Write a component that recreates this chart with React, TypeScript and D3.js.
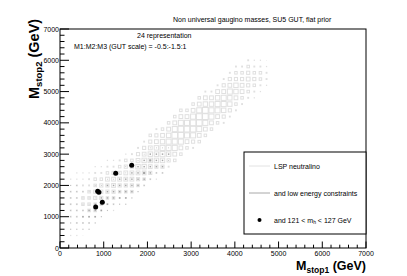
import React from "react";
import * as d3 from "d3";

const W = 407;
const H = 276;

// axes (GeV)
const axisMax = 7000;
const tickLabels = ["0", "1000", "2000", "3000", "4000", "5000", "6000", "7000"];

// 2D histogram binning (GeV)
const firstColumnStop1 = 245;
const binWidthStop1 = 140;
const binHeightStop2 = 200;

// first filled row of every column (row * binHeightStop2 = M_stop2 centre)
const columnFirstRow = [
  2, 2, 2, 3, 4, 5, 6, 6, 7, 7, 8, 9, 10, 11, 11, 12, 13,
  14, 15, 16, 16, 17, 18, 19, 20, 20, 21, 22, 23, 24, 24, 25, 26,
];

// box size per bin, bottom to top (0 = empty, 9 = full bin)
const lspContent = [
  "2223333322", "22333333322", "12333443322", "2334444332", "2344554432",
  "234555432", "234556432", "234566532", "23456543", "234566542",
  "24566543", "24567653", "34677653", "35677654", "235777653",
  "35788764", "35788764", "46889864", "46899864", "4689864",
  "35899864", "46899864", "46899763", "4688763", "4688763",
  "35788653", "35778653", "34677543", "3466543", "3456543",
  "2345432", "234432", "23321",
];

const lowEnergyContent = [
  "0111111110", "01111111100", "01121111000", "1122111000", "1222111000",
  "122211000", "122221000", "012221000", "12222100", "122221100",
  "12222100", "12222100", "12322100", "12232100", "012221000",
  "12221000", "01210000",
];

// points with 121 < m_h < 127 GeV
const higgsStop1 = [816, 968, 862, 890, 1274, 1640];
const higgsStop2 = [1310, 1460, 1815, 1780, 2387, 2643];

const font = "'Liberation Sans', Arial, sans-serif";

function cellsFrom(content: string[]) {
  const out: { s1: number; s2: number; v: number }[] = [];
  content.forEach((col, i) => {
    col.split("").forEach((ch, k) => {
      const v = +ch;
      if (v > 0)
        out.push({
          s1: firstColumnStop1 + i * binWidthStop1,
          s2: (columnFirstRow[i] + k) * binHeightStop2,
          v,
        });
    });
  });
  return out;
}

export default function App() {
  const x = d3.scaleLinear().domain([0, axisMax]).range([60, 366]);
  const y = d3.scaleLinear().domain([0, axisMax]).range([248, 29]);
  const bw = x(binWidthStop1) - x(0);
  const bh = y(0) - y(binHeightStop2);
  const boxScale = d3.scaleLinear().domain([0, 9]).range([0, 0.92]);
  const darkScale = d3.scaleLinear().domain([0, 3]).range([0, 2.2]);

  const lsp = cellsFrom(lspContent);
  const low = cellsFrom(lowEnergyContent);

  const major = x.ticks(7);
  const minor = x.ticks(35);

  return (
    <svg
      width={W}
      height={H}
      style={{ position: "absolute", left: 0, top: 0, background: "#fff" }}
      fontFamily={font}
    >
      <rect x={0} y={0} width={W} height={H} fill="#fff" />

      {/* LSP neutralino boxes */}
      {lsp.map((c, i) => {
        const w = boxScale(c.v) * bw;
        const h = boxScale(c.v) * bh;
        const small = w < 2.2;
        return (
          <rect
            key={"l" + i}
            x={x(c.s1) - w / 2}
            y={y(c.s2) - h / 2}
            width={w}
            height={h}
            fill={small ? "#e0e0e0" : "none"}
            stroke="#e0e0e0"
            strokeWidth={small ? 0 : 1}
          />
        );
      })}

      {/* low energy constraint boxes */}
      {low.map((c, i) => {
        const s = darkScale(c.v);
        return (
          <rect
            key={"d" + i}
            x={x(c.s1) - s / 2}
            y={y(c.s2) - s / 2}
            width={s}
            height={s}
            fill="#a6a6a6"
          />
        );
      })}

      {/* Higgs mass points */}
      {higgsStop1.map((v, i) => (
        <circle key={"h" + i} cx={x(v)} cy={y(higgsStop2[i])} r={2.5} fill="#000" />
      ))}

      {/* frame */}
      <rect x={60} y={29} width={306} height={219} fill="none" stroke="#000" strokeWidth={1} />

      {/* y axis ticks */}
      {minor.map((t) => (
        <line
          key={"ym" + t}
          x1={60}
          x2={60 + (major.includes(t) ? 9 : 4.5)}
          y1={y(t)}
          y2={y(t)}
          stroke="#000"
          strokeWidth={1}
        />
      ))}
      {/* x axis ticks */}
      {minor.map((t) => (
        <line
          key={"xm" + t}
          x1={x(t)}
          x2={x(t)}
          y1={248}
          y2={248 - (major.includes(t) ? 6.5 : 3.3)}
          stroke="#000"
          strokeWidth={1}
        />
      ))}

      {/* tick labels */}
      {major.map((t, i) => (
        <text key={"yl" + t} x={59} y={y(t) + 2.5} fontSize={7} textAnchor="end" fill="#000">
          {tickLabels[i]}
        </text>
      ))}
      {major.map((t, i) => (
        <text key={"xl" + t} x={x(t)} y={256} fontSize={7} textAnchor="middle" fill="#000">
          {tickLabels[i]}
        </text>
      ))}

      {/* axis titles */}
      <text x={366} y={270} fontSize={12.5} fontWeight="bold" textAnchor="end">
        M<tspan fontSize={8.5} dy={2.5}>stop1</tspan>
        <tspan dy={-2.5}> (GeV)</tspan>
      </text>
      <text
        transform="translate(39,99) rotate(-90)"
        fontSize={14.5}
        fontWeight="bold"
        textAnchor="start"
      >
        M<tspan fontSize={9.5} dy={3}>stop2</tspan>
        <tspan dy={-3}> (GeV)</tspan>
      </text>

      {/* titles */}
      <text x={173} y={22} fontSize={7}>Non universal gaugino masses, SU5 GUT, flat prior</text>
      <text x={137} y={38} fontSize={7}>24 representation</text>
      <text x={74} y={49} fontSize={7}>M1:M2:M3 (GUT scale) = -0.5:-1.5:1</text>

      {/* legend */}
      <rect x={244} y={152} width={122} height={82} fill="#fff" stroke="#000" strokeWidth={1} />
      <line x1={249} x2={270} y1={166} y2={166} stroke="#e2e2e2" strokeWidth={1} />
      <text x={274} y={168.5} fontSize={7}>LSP neutralino</text>
      <line x1={249} x2={270} y1={193} y2={193} stroke="#a8a8a8" strokeWidth={1} />
      <text x={274} y={195.5} fontSize={7}>and low energy constraints</text>
      <circle cx={259.5} cy={220} r={2} fill="#000" />
      <text x={274} y={222.5} fontSize={7}>
        and 121 &lt; m<tspan fontSize={5} dy={1.5}>h</tspan>
        <tspan dy={-1.5}> &lt; 127 GeV</tspan>
      </text>
    </svg>
  );
}
